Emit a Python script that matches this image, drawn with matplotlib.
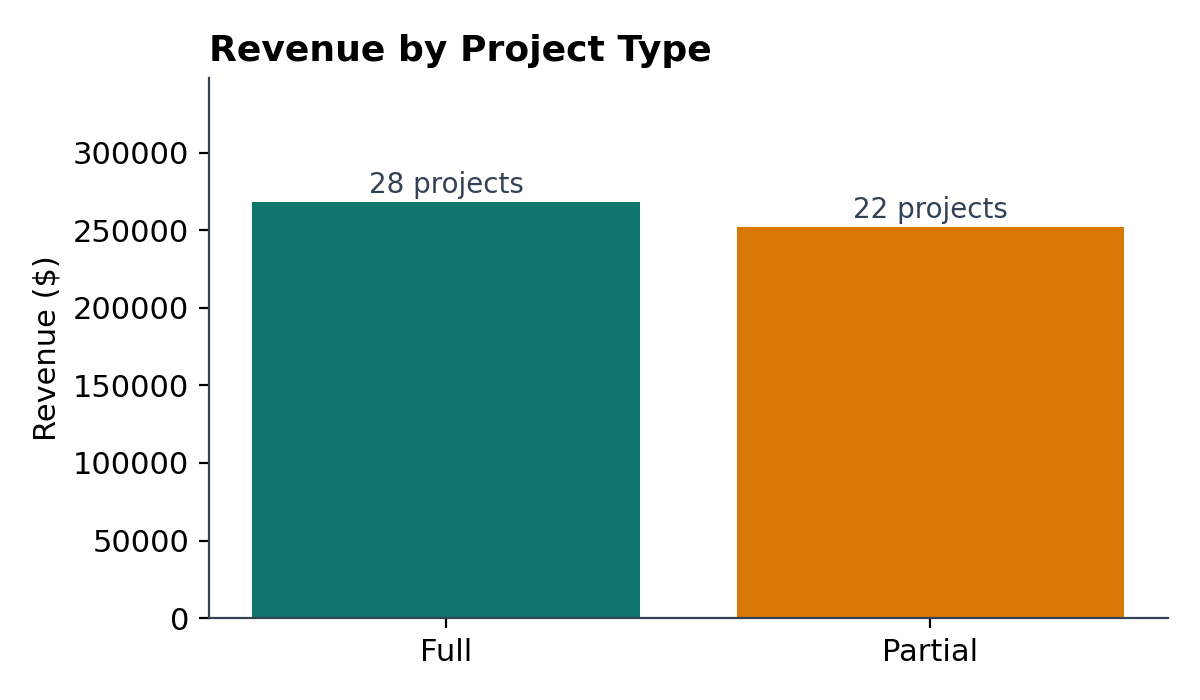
import matplotlib.pyplot as plt

tipos = ['Full', 'Partial']
revenue = [268000, 252000]
proyectos = [28, 22]
colores = ['#0f766e', '#d97706']

fig, ax = plt.subplots(figsize=(6, 3.5), dpi=200)

barras = ax.bar(tipos, revenue, color=colores, width=0.8)
for b, n in zip(barras, proyectos):
    ax.text(b.get_x() + b.get_width() / 2, b.get_height() + 2000, f'{n} projects',
            ha='center', va='bottom', fontsize=10, color='#334155')

ax.set_ylim(0, max(revenue) * 1.3)
ax.set_ylabel('Revenue ($)', fontsize=11)
ax.set_title('Revenue by Project Type', loc='left', fontsize=13, fontweight='bold')
ax.tick_params(labelsize=11)

for s in ['top', 'right']:
    ax.spines[s].set_visible(False)
for s in ['left', 'bottom']:
    ax.spines[s].set_color('#334155')

plt.subplots_adjust(left=0.174, right=0.973, top=0.889, bottom=0.117)
plt.savefig('out.png')
